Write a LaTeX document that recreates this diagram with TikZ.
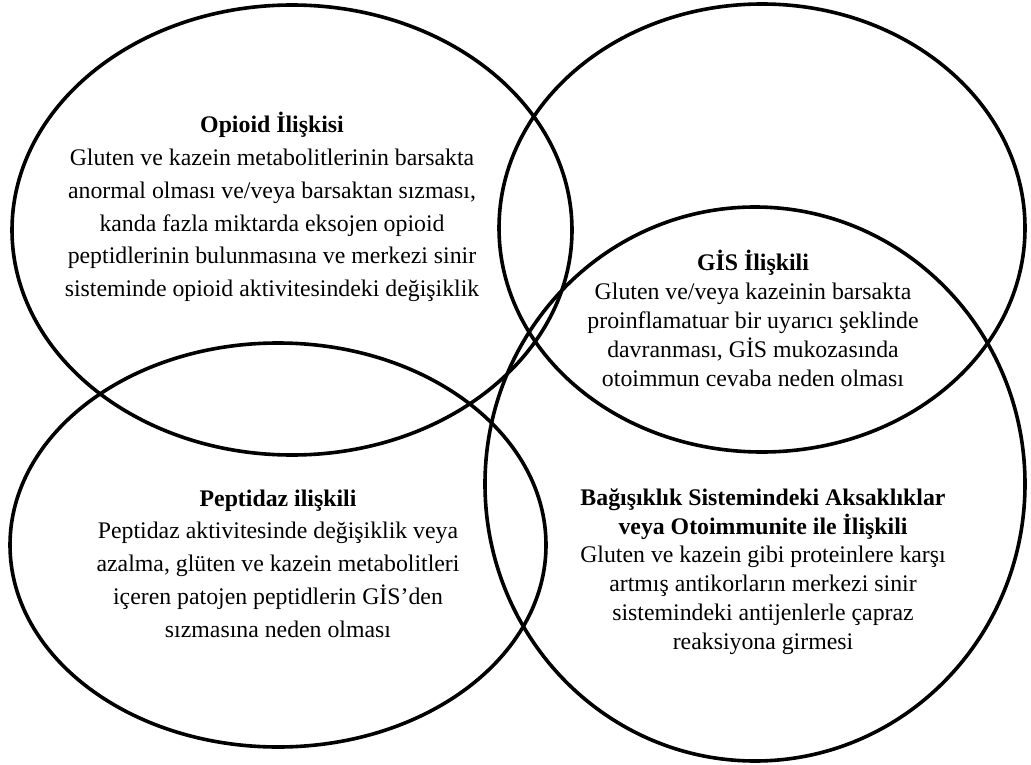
\documentclass[tikz,border=0pt]{standalone}
\usepackage{fontspec}
\setmainfont{Liberation Serif}
\usepackage{tikz}
\usetikzlibrary{shapes.geometric,positioning}
\tikzset{
  ring/.style    ={ellipse, draw=black, line width=3.6pt, inner sep=0pt},
  widetxt/.style ={align=center, inner sep=0pt, font=\fontsize{23.8}{32.8}\selectfont},
  tighttxt/.style={align=center, inner sep=0pt, font=\fontsize{23.8}{28.8}\selectfont}
}

\begin{document}
\begin{tikzpicture}[x=1pt,y=-1pt]
\useasboundingbox (0,0) rectangle (1031,765);
% the four rings
\node[ring, minimum width=560pt, minimum height=450pt] (opioid)   at (292,230) {};
\node[ring, minimum width=526pt, minimum height=448pt] (gis)      at (762,228) {};
\node[ring, minimum width=536pt, minimum height=404pt] (peptidaz) at (278,545) {};
\node[ring, minimum width=540pt, minimum height=554pt] (bagisik)  at (755,484) {};
% texts
\node[widetxt] (opioidT) at (272,207) {\textbf{Opioid İlişkisi}\\
  Gluten ve kazein metabolitlerinin barsakta\\
  anormal olması ve/veya barsaktan sızması,\\
  kanda fazla miktarda eksojen opioid\\
  peptidlerinin bulunmasına ve merkezi sinir\\
  sisteminde opioid aktivitesindeki değişiklik};
\node[tighttxt] (gisT) at (753,318.5) {\textbf{GİS İlişkili}\\
  Gluten ve/veya kazeinin barsakta\\
  proinflamatuar bir uyarıcı şeklinde\\
  davranması, GİS mukozasında\\
  otoimmun cevaba neden olması};
\node[widetxt] (peptidazT) at (278,563.5) {\textbf{Peptidaz ilişkili}\\
  Peptidaz aktivitesinde değişiklik veya\\
  azalma, glüten ve kazein metabolitleri\\
  içeren patojen peptidlerin GİS’den\\
  sızmasına neden olması};
\node[tighttxt] (bagisikT) at (763,571.5) {\textbf{Bağışıklık Sistemindeki Aksaklıklar}\\
  \textbf{veya Otoimmunite ile İlişkili}\\
  Gluten ve kazein gibi proteinlere karşı\\
  artmış antikorların merkezi sinir\\
  sistemindeki antijenlerle çapraz\\
  reaksiyona girmesi};
\end{tikzpicture}
\end{document}
